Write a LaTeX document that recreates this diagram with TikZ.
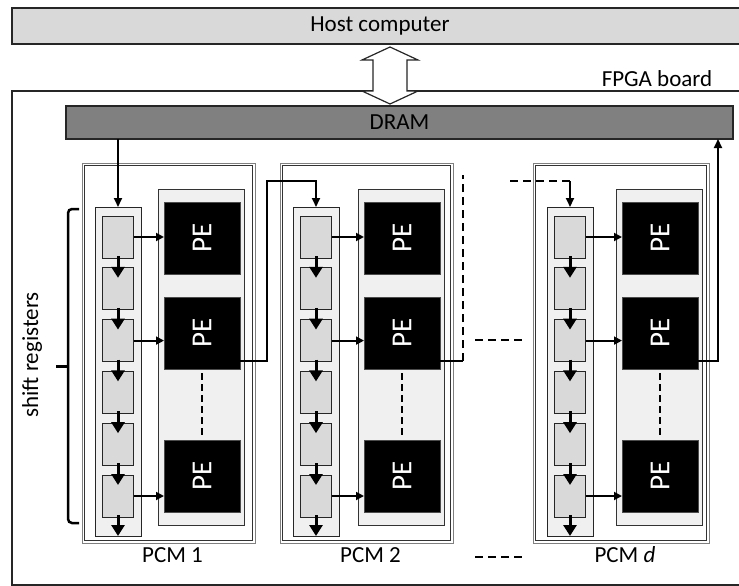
\documentclass[tikz,border=0pt]{standalone}
\usepackage{fontspec}
\setmainfont{Carlito}
\usetikzlibrary{arrows.meta}

\begin{document}
\begin{tikzpicture}[x=1pt, y=-1pt, >=Triangle,
    lbl/.style={font=\fontsize{23}{27}\selectfont, inner sep=0pt},
    box/.style={anchor=north west, outer sep=0pt, inner sep=0pt},
    hostbox/.style={box, draw=black!85, line width=1.2pt, fill=gray!30, lbl},
    drambox/.style={box, draw=black!85, line width=1.2pt, fill=gray, lbl},
    pcmframe/.style={box, draw=gray, line width=1pt},
    regcol/.style={box, draw=black!85, line width=1pt, fill=gray!12, minimum width=46pt, minimum height=329pt},
    regbox/.style={box, draw=black!85, line width=1pt, fill=gray!30, minimum width=31pt, minimum height=42pt},
    pecol/.style={box, draw=black!80, line width=1pt, fill=gray!12, minimum width=86pt, minimum height=336pt},
    pebox/.style={box, draw=black!70, fill=black, text=white, minimum width=76pt, minimum height=72pt,
      font=\fontsize{29}{33}\selectfont},
    shiftarrow/.style={line width=3pt, -{Triangle[width=13pt,length=11pt]}},
    pearrow/.style={line width=1.8pt, -{Triangle[width=8pt,length=8pt]}},
    linkarrow/.style={line width=2pt, -{Triangle[width=8pt,length=9pt]}},
    dashline/.style={line width=2.6pt, dash pattern=on 8pt off 5pt}]
  \useasboundingbox (0,0) rectangle (739,586);

  % host and board
  \node[hostbox, minimum width=736pt, minimum height=36pt] (host) at (12,8) {Host computer};
  \node[box, draw=black!85, line width=1.3pt, minimum width=733pt, minimum height=494pt] (board) at (12,91) {};
  \node[lbl] (boardlab) at (657,79) {FPGA board};
  \node[drambox, minimum width=667pt, minimum height=33pt] (dram) at (66,106) {DRAM};
  \draw[line width=1.2pt, draw=black!85, fill=white] (390,47) -- (418,60) -- (407,60) -- (407,91) -- (418,91)
    -- (390,104) -- (362,91) -- (373,91) -- (373,60) -- (362,60) -- cycle;

  % the processing column modules
  \foreach \k/\xo/\xr/\xc/\xp/\lab in {1/82/255/95/158/1, 2/280/453/293/358/2, 3/533/709/547/616/\textit{d}} {
    \node[pcmframe, minimum width=\xr pt-\xo pt, minimum height=380pt] (pcm\k) at (\xo,163) {};
    \draw[black!80, line width=0.8pt] ([shift={(2.5,2.5)}]pcm\k.north west) rectangle ([shift={(-2.5,-2.5)}]pcm\k.south east);
    \path (pcm\k.south) ++(4,12) node[lbl] (pcmlab\k) {PCM \lab};

    \node[regcol] (col\k) at (\xc,207) {};
    \foreach \j in {1,...,6}
      \node[regbox] (reg\k-\j) at (\xc+7.5,216+51.8*\j-51.8) {};
    \foreach \j [evaluate=\j as \n using int(\j+1)] in {1,...,5}
      \draw[shiftarrow] ([yshift=2pt]reg\k-\j.south) -- ([yshift=-10pt]reg\k-\n.north);
    \draw[shiftarrow] ([yshift=2pt]reg\k-6.south) -- (col\k.south);

    \node[pecol] (pecol\k) at (\xp,189) {};
    \node[pebox] (pe\k-1) at (\xp+6,202) {\rotatebox{90}{PE}};
    \node[pebox] (pe\k-2) at (\xp+6,297) {\rotatebox{90}{PE}};
    \node[pebox] (pe\k-3) at (\xp+6,440) {\rotatebox{90}{PE}};
    \draw[line width=2.6pt, dash pattern=on 7pt off 4pt] ([yshift=-4pt]pe\k-2.south) -- ([yshift=4pt]pe\k-3.north);

    \draw[pearrow] (reg\k-1.east) -- (reg\k-1.east -| pe\k-1.west);
    \draw[pearrow] (reg\k-3.east) -- (reg\k-3.east -| pe\k-2.west);
    \draw[pearrow] (reg\k-6.east) -- (reg\k-6.east -| pe\k-3.west);
  }

  % data path
  \draw[linkarrow] (dram.south -| col1.north) -- (col1.north);
  \draw[linkarrow] ([yshift=8pt]pe1-2.south east) -- ++(27,0) |- ([yshift=26pt]col2.north) -- (col2.north);
  \draw[line width=2pt] ([yshift=8pt]pe2-2.south east) -- ++(23,0) coordinate (out2);
  \draw[dashline] (out2) -- ++(0,-186);
  \coordinate (in3) at (510,181);
  \draw[dashline] (in3) -- (in3 -| col3.north);
  \draw[linkarrow] (in3 -| col3.north) -- (col3.north);
  \draw[linkarrow] ([yshift=8pt]pe3-2.south east) -| ([xshift=-15pt]dram.south east);
  \draw[dashline] (475,340) -- (523,340);
  \draw[dashline] (475,557) -- (522,557);

  % brace
  \draw[line width=2.5pt, rounded corners=4pt] (79,209) -- (68,209) -- (68,523) -- (79,523);
  \draw[line width=3pt] (68,366) -- (56,366);
  \node[lbl, rotate=90] (shreg) at (32,355) {shift registers};
\end{tikzpicture}
\end{document}
